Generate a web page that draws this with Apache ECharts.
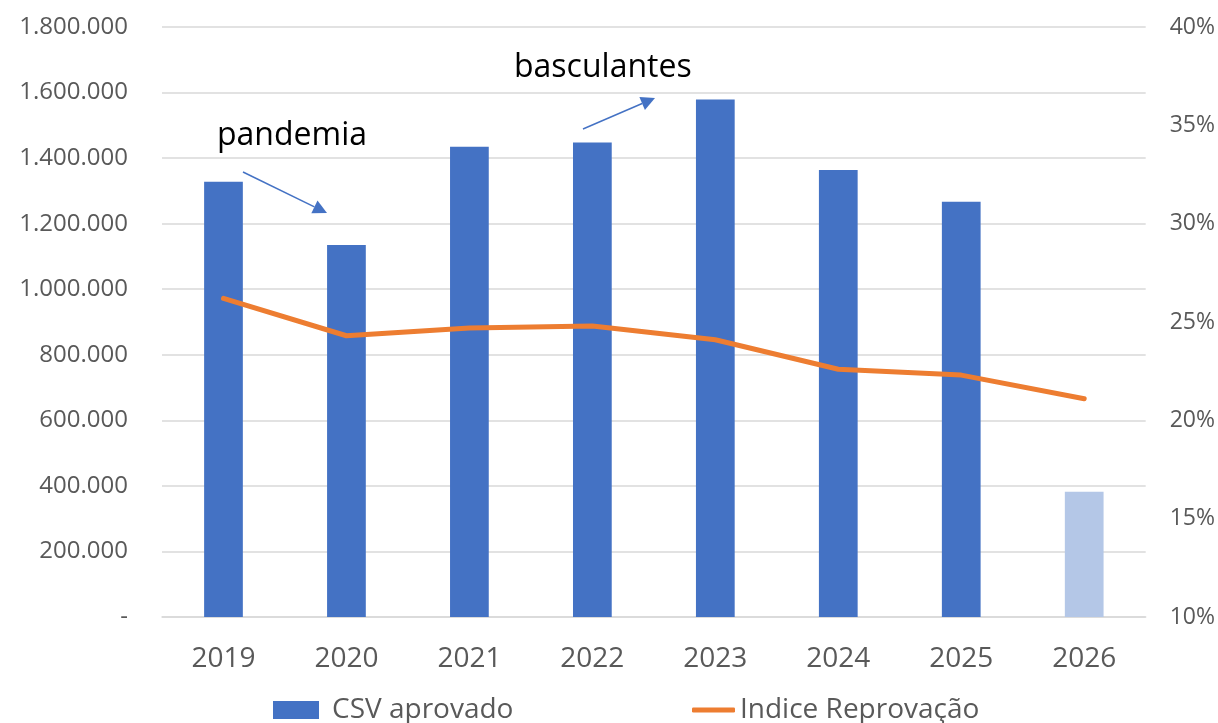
<!DOCTYPE html>
<html>
<head>
<meta charset="utf-8">
<script src="https://cdn.jsdelivr.net/npm/echarts@6/dist/echarts.min.js"></script>
<style>
html,body{margin:0;padding:0;background:#fff;}
#c{width:1218px;height:723px;}
</style>
</head>
<body>
<div id="c"></div>
<script>
const categories = ['2019','2020','2021','2022','2023','2024','2025','2026'];
const csvAprovado = [1328000, 1135000, 1435000, 1448000, 1579000, 1364000, 1267000, 382000];
const indiceReprovacao = [26.2, 24.3, 24.7, 24.8, 24.1, 22.6, 22.3, 21.1];
const leftTicks = { min: 0, max: 1800000, interval: 200000 };
const rightTicks = { min: 10, max: 40, interval: 5 };
const annotations = [
  { text: 'pandemia', x: 217, y: 136, from: [243, 172], to: [327, 213] },
  { text: 'basculantes', x: 514, y: 68, from: [583, 129], to: [655, 98] }
];

const FONT = 'Open Sans';
const GREY = '#595959';
const BLUE = '#4472C4';
const LIGHTBLUE = '#B4C7E7';
const ORANGE = '#ED7D31';

function fmtThousands(v) {
  if (v === 0) return '-';
  return String(v).replace(/\B(?=(\d{3})+(?!\d))/g, '.');
}

function arrowGraphic(a) {
  const [x1, y1] = a.from, [x2, y2] = a.to;
  const dx = x2 - x1, dy = y2 - y1, len = Math.hypot(dx, dy);
  const ux = dx / len, uy = dy / len;
  const L = 14, W = 7;
  const bx = x2 - ux * L, by = y2 - uy * L;
  const px = -uy, py = ux;
  return [
    { type: 'line', shape: { x1, y1, x2: bx, y2: by }, style: { stroke: BLUE, lineWidth: 1.5 } },
    { type: 'polygon', shape: { points: [[x2, y2], [bx + px * W, by + py * W], [bx - px * W, by - py * W]] }, style: { fill: BLUE } },
    { type: 'text', x: a.x, y: a.y, style: { text: a.text, fill: '#000', font: '32px "' + FONT + '"', textVerticalAlign: 'middle', textAlign: 'left' } }
  ];
}

const chart = echarts.init(document.getElementById('c'));
chart.setOption({
  animation: false,
  backgroundColor: '#fff',
  textStyle: { fontFamily: FONT },
  grid: { left: 162, right: 70, top: 27, bottom: 106, containLabel: false },
  legend: [
    {
      data: [{ name: 'CSV aprovado', icon: 'rect', itemStyle: { color: BLUE } }],
      left: 268, top: 691, itemWidth: 46, itemHeight: 18,
      textStyle: { color: GREY, fontSize: 28, fontFamily: FONT, padding: [0, 0, 0, 8] }
    },
    {
      data: [{ name: 'Indice Reprovação', icon: 'roundRect', itemStyle: { color: ORANGE } }],
      left: 687, top: 691, itemWidth: 43, itemHeight: 5,
      textStyle: { color: GREY, fontSize: 28, fontFamily: FONT, padding: [0, 0, 0, 0] }
    }
  ],
  xAxis: {
    type: 'category',
    data: categories,
    axisLine: { show: true, lineStyle: { color: '#D9D9D9', width: 1.5 } },
    axisTick: { show: false },
    axisLabel: { color: GREY, fontSize: 28, fontFamily: FONT, margin: 28 }
  },
  yAxis: [
    {
      type: 'value', min: leftTicks.min, max: leftTicks.max, interval: leftTicks.interval,
      axisLine: { show: false }, axisTick: { show: false },
      splitLine: { lineStyle: { color: '#D9D9D9', width: 1.5 } },
      axisLabel: { color: GREY, fontSize: 24, fontFamily: FONT, margin: 34, formatter: fmtThousands }
    },
    {
      type: 'value', min: rightTicks.min, max: rightTicks.max, interval: rightTicks.interval,
      axisLine: { show: false }, axisTick: { show: false }, splitLine: { show: false },
      axisLabel: { color: GREY, fontSize: 23, fontFamily: FONT, margin: 24, formatter: '{value}%' }
    }
  ],
  series: [
    {
      name: 'CSV aprovado', type: 'bar', yAxisIndex: 0, barWidth: '31.5%',
      itemStyle: { color: BLUE },
      data: csvAprovado.map((v, i) => i === categories.length - 1 ? { value: v, itemStyle: { color: LIGHTBLUE } } : v)
    },
    {
      name: 'Indice Reprovação', type: 'line', yAxisIndex: 1, symbol: 'none',
      lineStyle: { color: ORANGE, width: 5, cap: 'round', join: 'round' },
      itemStyle: { color: ORANGE },
      data: indiceReprovacao, z: 5
    }
  ],
  graphic: annotations.flatMap(arrowGraphic)
});
</script>
</body>
</html>
